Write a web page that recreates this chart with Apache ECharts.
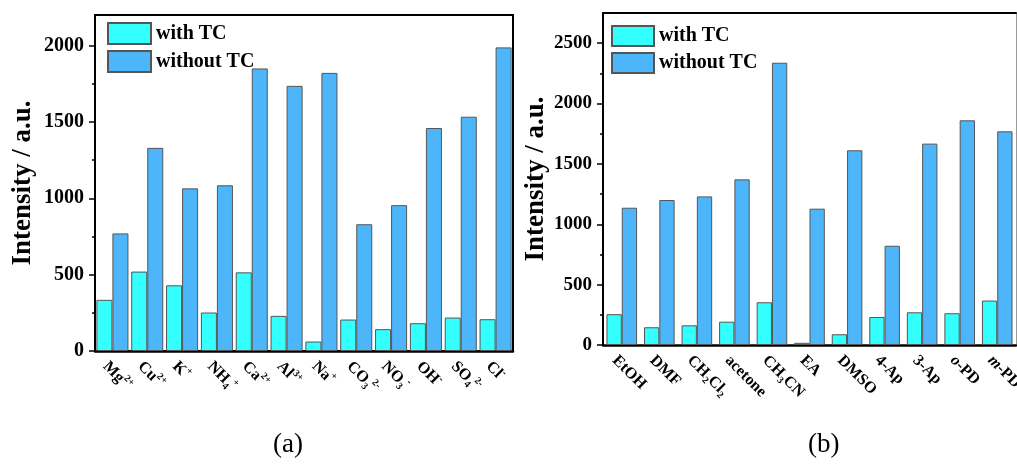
<!DOCTYPE html>
<html>
<head>
<meta charset="utf-8">
<script src="https://cdn.jsdelivr.net/npm/echarts@6/dist/echarts.min.js"></script>
<style>
  html, body { margin: 0; padding: 0; background: #fff; }
  #chart { width: 1017px; height: 467px; }
</style>
</head>
<body>
<div id="chart"></div>
<script>
// (a) interfering ions
const ionLabels = ['Mg{sup|2+}', 'Cu{sup|2+}', 'K{sup|+}', 'NH{sub|4}{sup|+}', 'Ca{sup|2+}', 'Al{sup|3+}',
                   'Na{sup|+}', 'CO{sub|3}{sup|2-}', 'NO{sub|3}{sup|-}', 'OH{sup|-}', 'SO{sub|4}{sup|2-}', 'Cl{sup|-}'];
const ionWithTC    = [335, 520, 430, 252, 515, 230, 62, 206, 143, 182, 219, 208];
const ionWithoutTC = [770, 1330, 1065, 1085, 1850, 1736, 1821, 830, 955, 1460, 1534, 1988];

// (b) solvents and amines
const solventLabels = ['EtOH', 'DMF', 'CH{sub|2}Cl{sub|2}', 'acetone', 'CH{sub|3}CN', 'EA', 'DMSO',
                       '4-Ap', '3-Ap', '{it|o}-PD', '{it|m}-PD'];
const solventWithTC    = [255, 147, 163, 193, 354, 18, 89, 232, 271, 263, 368];
const solventWithoutTC = [1137, 1201, 1231, 1372, 2338, 1129, 1613, 822, 1668, 1861, 1770];

// axis ticks
const majorTicksA = [0, 500, 1000, 1500, 2000];
const minorTicksA = [250, 750, 1250, 1750];
const majorTicksB = [0, 500, 1000, 1500, 2000, 2500];
const minorTicksB = [250, 750, 1250, 1750, 2250];

const seriesNames = ['with TC', 'without TC'];
const SERIF = 'Liberation Serif';
const CYAN = '#33FFFF';
const BLUE = '#4DB6FA';

const richStyles = {
  sup: { fontFamily: SERIF, fontWeight: 'bold', fontSize: 10, lineHeight: 11, verticalAlign: 'top', color: '#000' },
  sub: { fontFamily: SERIF, fontWeight: 'bold', fontSize: 10, lineHeight: 11, verticalAlign: 'bottom', color: '#000' },
  it:  { fontFamily: SERIF, fontWeight: 'bold', fontStyle: 'italic', fontSize: 16, lineHeight: 20, color: '#000' }
};

function categoryAxis(gridIndex, data) {
  return {
    type: 'category', gridIndex, data,
    axisLine: { onZero: false, lineStyle: { color: '#000', width: 2.5 } },
    axisTick: { show: false },
    axisLabel: {
      interval: 0, rotate: -45, margin: 6, verticalAlign: 'top',
      fontFamily: SERIF, fontWeight: 'bold', fontSize: 16, lineHeight: 20, color: '#000',
      rich: richStyles
    }
  };
}

function valueAxis(gridIndex, max, majors, fontSize, nameGap) {
  return {
    type: 'value', gridIndex, min: 0, max, interval: 500, position: 'left',
    name: 'Intensity / a.u.', nameLocation: 'middle', nameGap,
    nameTextStyle: { fontFamily: SERIF, fontWeight: 'bold', fontSize: 27, color: '#000' },
    axisLine: { show: true, lineStyle: { color: '#000', width: 2 } },
    axisTick: { show: true, customValues: majors, length: 6, lineStyle: { color: '#000', width: 1.5 } },
    axisLabel: { customValues: majors, margin: 11, formatter: v => String(v),
                 fontFamily: SERIF, fontWeight: 'bold', fontSize, color: '#000' },
    splitLine: { show: false }
  };
}

function minorAxis(gridIndex, max, minors) {
  return {
    type: 'value', gridIndex, min: 0, max, interval: 500, position: 'left',
    axisLine: { show: false },
    axisTick: { show: true, customValues: minors, length: 3, lineStyle: { color: '#000', width: 1.5 } },
    axisLabel: { show: false },
    splitLine: { show: false }
  };
}

function barSeries(name, color, xi, yi, data, gap) {
  return {
    type: 'bar', name, xAxisIndex: xi, yAxisIndex: yi, data,
    barGap: '0%', barCategoryGap: gap,
    itemStyle: { color, borderColor: '#555', borderWidth: 1 }
  };
}

function legendAt(left, top, w, h) {
  return {
    data: seriesNames, orient: 'vertical', left, top, padding: 0,
    itemWidth: w, itemHeight: h, itemGap: 5, icon: 'rect', selectedMode: false,
    textStyle: { fontFamily: SERIF, fontWeight: 'bold', fontSize: 20, color: '#000' }
  };
}

const chart = echarts.init(document.getElementById('chart'), null, { renderer: 'canvas' });
chart.setOption({
  animation: false,
  backgroundColor: '#fff',
  title: [
    { text: '(a)', left: 273, top: 431, padding: 0,
      textStyle: { fontFamily: SERIF, fontWeight: 'normal', fontSize: 27, color: '#000' } },
    { text: '(b)', left: 808, top: 431, padding: 0,
      textStyle: { fontFamily: SERIF, fontWeight: 'normal', fontSize: 27, color: '#000' } }
  ],
  legend: [legendAt(107, 22, 43, 21), legendAt(611, 25, 42, 20)],
  grid: [
    { left: 95, top: 15, width: 418, height: 336, outerBoundsMode: 'none',
      show: true, borderColor: '#000', borderWidth: 2 },
    { left: 603, top: 13, width: 413, height: 332, outerBoundsMode: 'none' }
  ],
  xAxis: [
    categoryAxis(0, ionLabels),
    categoryAxis(1, solventLabels),
    { type: 'category', gridIndex: 1, position: 'top', data: solventLabels,
      axisLine: { onZero: false, lineStyle: { color: '#000', width: 2 } },
      axisTick: { show: false }, axisLabel: { show: false } }
  ],
  yAxis: [
    valueAxis(0, 2200, majorTicksA, 20, 58),
    minorAxis(0, 2200, minorTicksA),
    valueAxis(1, 2750, majorTicksB, 19, 53),
    minorAxis(1, 2750, minorTicksB),
    { type: 'value', gridIndex: 1, min: 0, max: 2750, position: 'right',
      axisLine: { show: true, lineStyle: { color: '#999', width: 1 } },
      axisTick: { show: false }, axisLabel: { show: false }, splitLine: { show: false } }
  ],
  series: [
    barSeries(seriesNames[0], CYAN, 0, 0, ionWithTC, '8%'),
    barSeries(seriesNames[1], BLUE, 0, 0, ionWithoutTC, '8%'),
    barSeries(seriesNames[0], CYAN, 1, 2, solventWithTC, '18.5%'),
    barSeries(seriesNames[1], BLUE, 1, 2, solventWithoutTC, '18.5%')
  ]
});
</script>
</body>
</html>
